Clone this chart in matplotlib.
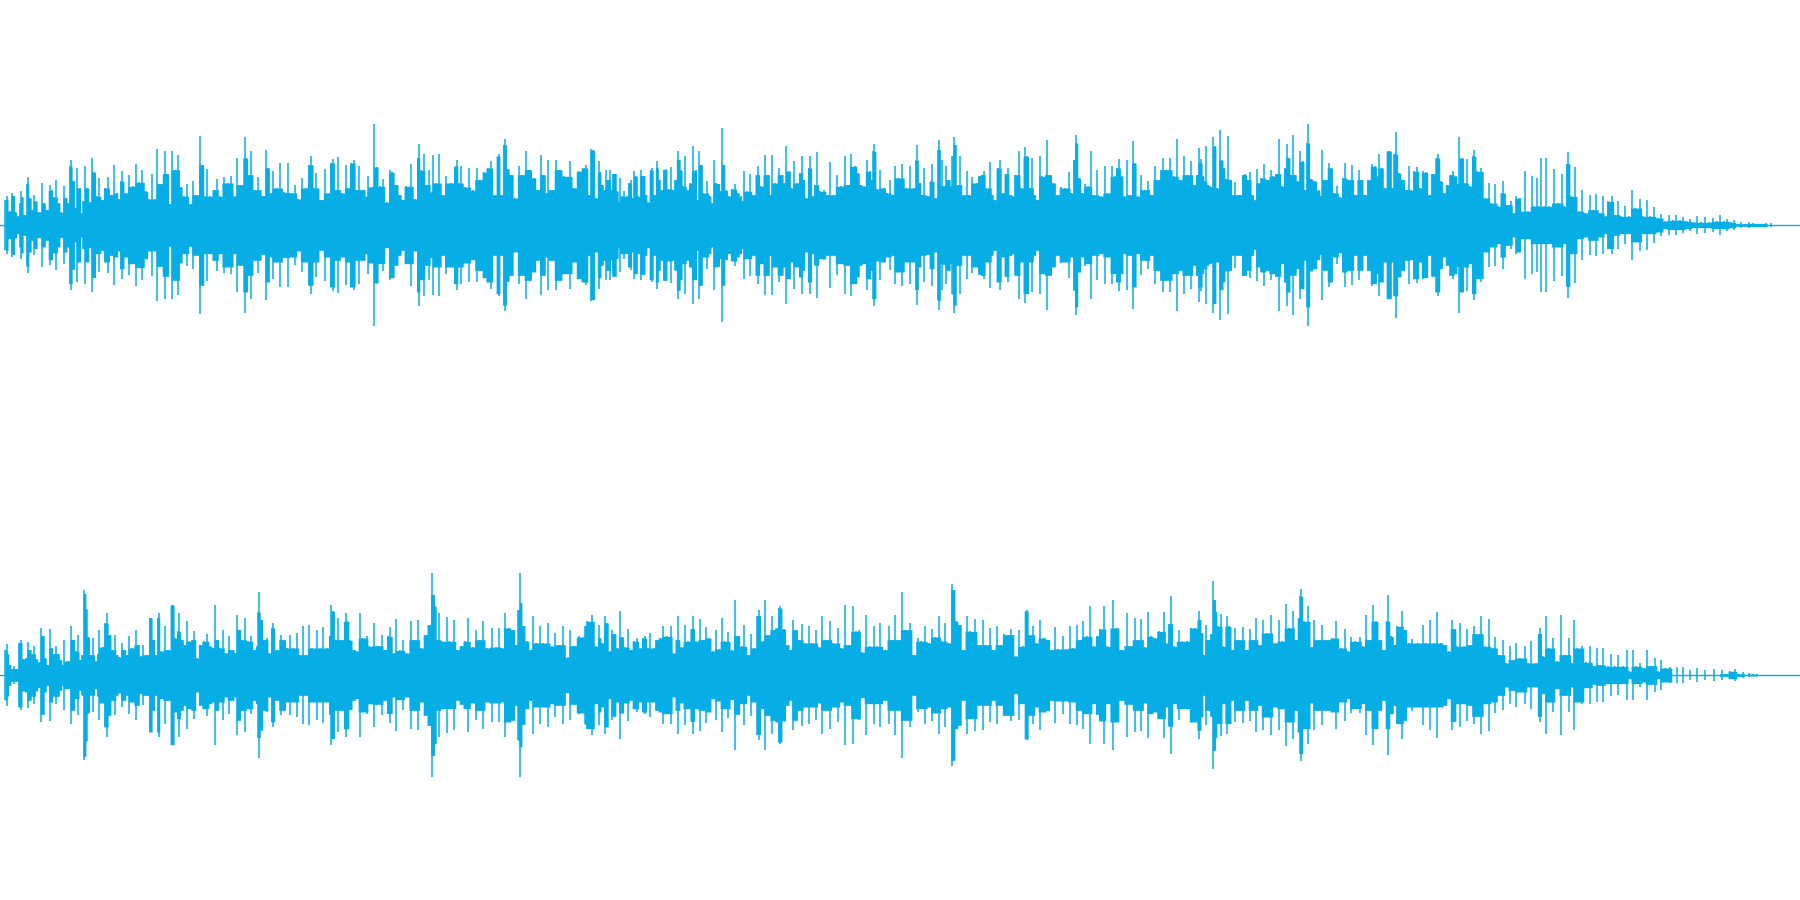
import numpy as np
import matplotlib
matplotlib.use("Agg")
import matplotlib.pyplot as plt

# peak level of each channel, read in three stretches of the recording
# time unit: 1568 per stretch, level unit: 675 is full scale
ch1_a_t = [13,17,25,32,36,40,47,53,55,58,63,67,70,72,78,85,90,94,100,105,110,115,122,130,135,140,147,153,160,168,172,178,183,185,192,197,202,208,213,218,223,228,236,241,246,253,260,267,275,282,290,299,305,310,316,320,328,338,348,356,362,372,382,390,398,406,411,418,430,437,444,450,458,466,472,480,488,498,505,515,523,530,535,542,550,558,566,575,585,595,603,615,620,630,639,644,650,657,665,675,690,694,700,708,714,725,733,743,752,762,770,780,790,800,808,814,822,827,840,850,858,865,870,878,884,895,905,910,917,924,932,939,950,958,963,973,978,984,992,1000,1011,1020,1025,1035,1045,1052,1060,1075,1085,1092,1094,1100,1108,1112,1120,1128,1131,1140,1148,1158,1166,1178,1192,1193,1200,1206,1215,1225,1235,1246,1255,1265,1275,1283,1292,1301,1303,1310,1318,1321,1326,1335,1347,1357,1365,1375,1383,1395,1405,1415,1420,1430,1433,1445,1452,1462,1475,1490,1500,1512,1525,1532,1540,1545,1550,1557,1565]
ch1_a_p = [76,88,41,96,88,39,26,66,103,84,31,31,124,144,81,46,90,71,38,38,126,66,46,121,104,84,136,66,38,118,81,66,176,195,133,51,171,111,36,71,178,111,68,201,158,86,141,76,111,144,91,181,96,78,131,163,96,151,116,184,128,166,101,78,154,78,229,124,223,154,64,221,166,211,114,86,124,64,131,91,268,181,86,169,86,106,138,86,144,126,148,86,201,121,264,201,151,223,106,144,88,226,171,96,161,111,186,98,186,96,121,78,141,111,181,208,111,156,76,169,96,186,198,106,204,96,181,111,186,196,106,178,106,86,148,114,304,174,116,138,68,166,158,121,91,76,116,184,78,201,244,164,214,121,164,98,211,126,214,91,148,126,176,196,126,178,114,171,104,171,136,158,171,191,91,206,214,91,241,259,169,151,81,176,151,221,166,141,106,211,151,96,196,106,196,166,146,193,111,161,171,181,91,228,224,81,193]

ch1_b_t = [0,5,12,16,22,25,30,33,40,45,50,53,58,62,70,75,80,85,90,95,100,108,115,120,125,132,136,142,148,150,155,160,168,172,178,186,192,196,203,207,212,217,223,228,235,243,250,255,260,265,270,280,288,292,298,303,310,315,318,322,330,336,345,354,360,368,372,376,385,393,400,410,414,420,432,440,445,450,458,468,475,482,487,495,500,508,515,522,527,532,538,546,550,556,562,568,575,585,595,602,610,620,630,640,647,657,667,675,680,690,697,705,710,714,717,725,732,742,750,757,765,772,780,790,800,810,820,827,829,835,842,848,855,865,868,878,884,887,892,895,900,905,912,918,921,924,927,935,941,950,960,965,973,985,990,998,1003,1010,1020,1025,1030,1040,1045,1052,1060,1065,1072,1080,1085,1095,1100,1111,1115,1125,1130,1135,1142,1150,1155,1168,1175,1185,1195,1205,1215,1225,1232,1240,1243,1245,1252,1260,1268,1275,1282,1288,1300,1308,1320,1328,1338,1345,1350,1357,1363,1370,1378,1385,1393,1397,1405,1415,1425,1433,1440,1450,1455,1470,1480,1490,1500,1508,1515,1527,1535,1545,1552,1560,1565]
ch1_b_p = [158,121,106,164,136,166,106,154,154,101,68,141,86,101,86,126,136,81,161,146,86,166,148,91,68,164,171,91,171,191,136,106,166,169,108,174,106,136,221,196,164,116,206,106,126,236,164,76,223,181,96,133,86,66,194,126,124,101,290,181,104,86,108,122,96,86,71,161,101,154,91,151,176,116,211,151,91,211,126,171,151,126,238,161,111,191,126,156,206,136,81,171,206,86,121,218,101,106,91,188,91,151,116,208,121,214,176,156,121,116,196,161,136,221,244,108,166,111,96,134,91,178,141,184,111,176,111,194,241,126,91,171,88,131,184,81,226,256,116,196,118,178,136,116,208,263,241,121,206,91,161,91,144,126,148,151,161,111,188,91,76,171,194,96,154,171,91,86,151,223,111,234,206,111,201,91,76,206,146,256,151,126,91,114,111,158,96,196,246,271,141,96,124,116,221,91,164,86,176,96,176,146,171,198,146,86,194,91,251,186,86,151,106,133,91,176,136,201,166,201,146,258,136,208,151,191,121,151,231]

ch1_c_t = [0,3,8,12,16,20,25,30,35,38,45,53,58,62,68,74,80,85,92,100,105,112,118,125,130,137,143,148,155,160,168,175,185,190,200,207,215,222,227,232,238,243,248,255,262,268,275,280,283,290,300,310,316,320,328,337,342,350,358,365,375,380,388,398,405,415,422,430,440,450,458,464,468,475,483,490,497,503,508,513,520,530,540,546,552,560,568,575,582,590,600,607,620,623,630,637,645,655,660,668,675,678,685,692,698,705,714,717,725,735,745,754,760,772,780,788,793,803,812,820,827,835,840,850,858,868,873,880,885,892,900,905,912,925,935,945,952,960,963,970,980,990,998,1008,1018,1028,1036,1045,1052,1060,1066,1077,1085,1093,1100,1110,1120,1130,1138,1150,1158,1168,1175,1187,1196,1205,1215,1225,1235,1245,1255,1263,1272,1280,1290,1300,1310,1320,1330,1340,1350,1360,1370,1378,1388,1395,1405,1415,1425,1435,1445,1480,1484,1492,1497]
ch1_c_p = [186,198,146,131,238,121,116,114,263,236,111,286,194,171,138,268,136,91,129,91,91,151,154,136,158,91,74,168,126,141,183,136,166,146,154,258,116,171,243,201,151,271,151,131,223,191,106,246,304,138,131,104,88,226,136,186,171,96,118,83,141,186,136,181,91,164,136,91,136,184,176,146,213,171,111,221,223,111,213,280,156,136,106,178,104,161,174,111,163,158,91,154,201,214,131,96,121,151,163,146,124,263,201,126,198,116,206,226,161,171,81,126,66,124,56,96,133,61,71,36,86,81,41,163,41,148,56,141,56,201,56,201,56,168,66,154,56,184,220,86,174,41,106,36,91,46,94,36,88,26,71,86,31,73,26,56,26,104,51,78,26,76,26,54,21,34,11,31,14,31,14,23,11,18,8,26,8,24,8,21,11,31,11,18,8,14,4,8,4,8,5,5,1,5,1]

ch2_a_t = [13,17,20,25,32,36,45,50,55,60,68,72,78,85,90,95,102,108,113,118,124,130,135,140,147,152,158,165,168,175,180,186,192,198,203,210,215,220,223,226,230,238,244,250,256,260,268,275,280,285,295,300,305,312,318,325,332,338,345,355,360,368,375,385,392,395,400,408,412,415,420,432,440,449,452,458,465,468,475,483,488,495,503,508,515,522,533,542,550,557,563,568,575,582,590,598,608,615,620,625,632,640,648,656,665,672,675,678,682,690,697,703,712,714,722,735,742,750,757,765,775,785,792,800,808,815,828,835,845,855,862,866,870,878,884,892,903,908,915,925,932,940,947,958,965,978,985,997,1005,1015,1020,1030,1036,1045,1053,1062,1075,1082,1093,1100,1112,1120,1130,1133,1137,1143,1148,1156,1167,1173,1187,1195,1205,1215,1223,1235,1245,1255,1263,1272,1285,1295,1305,1312,1320,1330,1340,1350,1355,1358,1361,1367,1377,1387,1394,1402,1412,1420,1433,1442,1450,1462,1470,1485,1490,1500,1512,1525,1530,1535,1548,1558,1565]
ch2_a_p = [76,94,63,31,19,28,19,96,106,48,51,100,76,64,88,48,38,141,118,51,31,139,81,64,88,64,46,31,106,41,41,148,106,71,121,46,61,256,244,198,114,61,111,41,64,134,84,156,186,121,76,121,61,54,96,76,61,118,81,136,91,56,91,61,171,171,106,61,171,186,71,146,76,209,211,111,131,186,106,91,163,101,106,131,51,91,101,124,86,81,211,106,81,136,66,118,76,66,181,136,106,171,101,116,76,86,188,250,166,106,111,66,141,156,76,121,106,81,121,81,126,61,146,61,151,81,136,81,144,81,118,211,191,106,171,106,186,161,104,76,71,186,111,118,86,156,88,121,76,116,144,66,169,74,106,66,161,106,166,81,121,151,306,241,206,106,186,101,174,101,166,76,88,101,171,84,136,106,161,81,141,84,141,81,186,141,136,91,196,306,216,148,101,76,178,96,146,96,156,86,126,91,148,53,136,88,118,114,148,161,181,86,151]

ch2_b_t = [0,5,14,18,25,32,38,45,52,58,65,73,80,88,96,105,112,118,125,130,140,147,157,165,175,185,192,200,205,212,222,230,240,244,250,262,268,278,285,295,302,310,318,325,335,345,353,360,370,376,390,395,402,412,415,425,432,438,450,455,461,468,471,480,490,498,505,512,520,527,535,546,555,565,572,581,590,600,610,623,630,641,650,660,668,676,685,696,705,716,725,732,745,755,763,772,780,790,797,810,820,830,838,850,860,868,875,885,895,902,912,921,925,930,940,948,960,968,980,990,1002,1010,1018,1027,1038,1048,1055,1067,1075,1088,1095,1105,1112,1116,1122,1132,1140,1150,1160,1170,1180,1188,1197,1210,1218,1227,1237,1247,1255,1263,1272,1281,1290,1300,1306,1318,1325,1340,1350,1362,1376,1385,1397,1405,1415,1425,1433,1440,1450,1460,1475,1480,1488,1493,1500,1512,1520,1535,1545,1555,1565]
ch2_b_p = [111,96,178,156,71,134,124,81,191,114,84,139,76,101,111,81,111,118,81,126,81,106,111,146,116,148,66,106,176,84,151,101,139,178,101,168,106,144,111,71,134,78,171,101,129,74,226,118,86,151,61,124,81,178,196,101,224,121,176,136,141,201,208,138,91,76,164,136,106,154,96,148,96,134,84,176,106,161,96,141,81,211,91,206,131,136,68,181,86,148,86,156,76,146,106,181,106,248,136,156,61,111,101,146,96,138,114,176,101,156,96,274,256,161,151,76,178,131,168,91,164,91,141,76,146,91,124,121,138,56,136,86,191,194,121,148,96,166,111,106,76,144,78,118,78,148,81,151,106,163,116,208,86,118,138,206,86,224,141,76,186,88,171,106,168,84,188,116,111,131,188,96,154,238,86,134,101,101,141,141,191]

ch2_c_t = [0,5,10,16,22,30,35,38,42,46,55,60,70,77,85,92,100,112,122,130,140,147,155,165,175,185,195,207,215,225,232,243,250,258,262,265,272,283,292,298,308,318,325,335,345,356,368,378,388,395,405,418,425,435,442,452,460,470,480,488,492,500,510,514,528,535,545,555,570,582,590,602,612,620,630,640,650,658,665,672,680,690,697,705,715,722,735,745,755,765,772,782,793,800,810,820,827,835,850,858,866,878,885,888,897,905,912,922,932,944,952,965,972,978,985,998,1008,1020,1030,1037,1045,1053,1065,1075,1085,1093,1105,1115,1122,1131,1140,1150,1160,1168,1178,1190,1198,1206,1215,1228,1238,1246,1255,1263,1272,1280,1290,1300,1310,1320,1330,1342,1350,1365,1375,1385,1398,1407,1418,1428,1435,1445,1456]
ch2_c_p = [166,126,61,151,106,124,283,226,188,146,184,86,176,146,76,141,106,143,76,139,106,171,91,166,126,181,96,164,101,214,141,191,106,171,236,259,161,206,84,166,106,151,106,106,111,161,81,139,71,114,101,114,86,181,106,211,161,106,76,161,241,116,91,146,191,136,96,108,96,151,96,166,96,188,96,91,71,166,139,86,156,86,138,91,148,124,176,86,168,81,114,61,106,36,88,46,96,51,88,36,103,36,124,141,56,176,81,111,41,181,61,111,36,166,81,88,38,88,28,81,31,81,26,64,26,61,26,76,11,76,26,36,21,76,28,51,11,46,21,24,0,24,0,24,0,14,0,21,0,14,1,19,1,16,4,11,19,4,8,1,6,3,3]

LEVEL_MAX = 675
STRETCH = 1568
WAVE_COLOR = '#06AEE5'


def join(a, b, c):
    return np.concatenate([np.array(a), np.array(b) + STRETCH, np.array(c) + 2 * STRETCH])


fig = plt.figure(figsize=(18, 9), dpi=100, facecolor='white')

channels = [
    (join(ch1_a_t, ch1_b_t, ch1_c_t), np.concatenate([ch1_a_p, ch1_b_p, ch1_c_p]), 0.5),
    (join(ch2_a_t, ch2_b_t, ch2_c_t), np.concatenate([ch2_a_p, ch2_b_p, ch2_c_p]), 0.0),
]

for t, peak, bottom in channels:
    ax = fig.add_axes([0, bottom, 1, 0.5])
    # wide columns only as high as the taller neighbour, lone spikes stay thin
    left = np.append(peak[0], peak[:-1])
    right = np.append(peak[1:], 0)
    body = np.minimum(peak, np.maximum(left, right))
    ax.fill_between(t, -body, body, step='mid', color=WAVE_COLOR, lw=0)
    ax.vlines(t, -peak, peak, color=WAVE_COLOR, lw=1.1)
    ax.axhline(0, color=WAVE_COLOR, lw=1)
    ax.set_xlim(0, 3 * STRETCH)
    ax.set_ylim(-LEVEL_MAX, LEVEL_MAX)
    ax.axis('off')

fig.savefig('out.png', dpi=100, facecolor='white')
